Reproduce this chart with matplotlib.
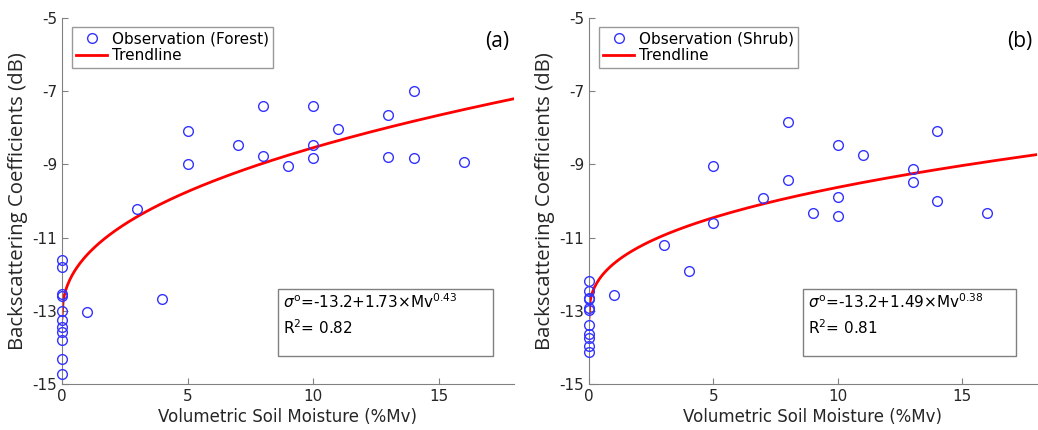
import matplotlib
matplotlib.use('Agg')
import matplotlib.pyplot as plt
import matplotlib.patches as patches
import numpy as np

plt.rcParams['axes.unicode_minus'] = False

# Forest (a)
forest_mv = [0, 0, 0, 0, 0, 0, 0, 0, 0, 0, 0,
             1, 3, 4, 5, 5, 7, 8, 8, 9, 10, 10, 10, 11, 13, 13, 14, 14, 16]
forest_db = [-11.61, -11.81, -12.54, -12.59, -13.0, -13.25, -13.44, -13.57, -13.8, -14.31, -14.72,
             -13.02, -10.22, -12.68, -8.08, -8.98, -8.48, -7.41, -8.77, -9.05, -7.39, -8.47, -8.83,
             -8.02, -7.65, -8.81, -6.98, -8.83, -8.94]

# Shrub (b)
shrub_mv = [0, 0, 0, 0, 0, 0, 0, 0, 0, 0, 0,
            1, 3, 4, 5, 5, 7, 8, 8, 9, 10, 10, 10, 11, 13, 13, 14, 14, 16]
shrub_db = [-12.18, -12.47, -12.65, -12.68, -12.91, -12.97, -13.38, -13.64, -13.73, -13.97, -14.12,
            -12.58, -11.2, -11.91, -9.05, -10.61, -9.91, -7.84, -9.42, -10.32, -8.46, -9.9, -10.41,
            -8.73, -9.12, -9.48, -8.08, -10.01, -10.32]

# trendline parameters: sigma = a + b * Mv^c, and R2
forest_fit = (-13.2, 1.73, 0.43, 0.82)
shrub_fit = (-13.2, 1.49, 0.38, 0.81)

gris = '#808080'


def panneau(ax, mv, db, fit, nom, lettre):
    a, b, c, r2 = fit
    ax.plot(mv, db, 'o', markerfacecolor='none', markeredgecolor='#3333ff',
            markersize=7, markeredgewidth=1.0, label='Observation (%s)' % nom,
            zorder=3, clip_on=False)
    xs = np.linspace(0, 18, 400)
    ax.plot(xs, a + b * xs ** c, color='red', linewidth=2.0, label='Trendline', zorder=2)

    ax.set_xlim(0, 18)
    ax.set_ylim(-15, -5)
    ax.set_xticks([0, 5, 10, 15])
    ax.set_yticks([-15, -13, -11, -9, -7, -5])
    ax.tick_params(direction='in', length=4, color=gris, labelsize=11, labelcolor='#262626')
    for s in ['top', 'right']:
        ax.spines[s].set_visible(False)
    for s in ['left', 'bottom']:
        ax.spines[s].set_color(gris)
    ax.set_xlabel('Volumetric Soil Moisture (%Mv)', fontsize=12, color='#262626', labelpad=3)
    ax.set_ylabel('Backscattering Coefficients (dB)', fontsize=14.7, color='#262626',
                  family='Open Sans', labelpad=3)

    leg = ax.legend(loc='upper left', bbox_to_anchor=(0.022, 0.975), borderaxespad=0,
                    fontsize=11, fancybox=False, frameon=True, handlelength=2.0,
                    handletextpad=0.3, borderpad=0.3, labelspacing=0.1)
    leg.get_frame().set_edgecolor(gris)
    leg.get_frame().set_linewidth(1.0)

    # equation box
    ax.add_patch(patches.Rectangle((0.478, 0.077), 0.476, 0.183, transform=ax.transAxes,
                                   facecolor='white', edgecolor=gris, linewidth=1.0, zorder=4))
    ax.text(0.49, 0.225, r'$\sigma^{\mathrm{o}}$=%.1f+%.2f$\times$Mv$^{%.2f}$' % (a, b, c),
            transform=ax.transAxes, fontsize=11, va='center', ha='left', zorder=5)
    ax.text(0.49, 0.155, r'R$^2$= %.2f' % r2, transform=ax.transAxes, fontsize=11,
            va='center', ha='left', zorder=5)

    ax.text(0.99, 0.965, lettre, transform=ax.transAxes, fontsize=15, ha='right', va='top',
            family='Open Sans')


fig = plt.figure(figsize=(10.38, 4.30), dpi=100)
ax1 = fig.add_axes([0.0597, 0.107, 0.4355, 0.851])
ax2 = fig.add_axes([0.5674, 0.107, 0.4316, 0.851])

panneau(ax1, forest_mv, forest_db, forest_fit, 'Forest', '(a)')
panneau(ax2, shrub_mv, shrub_db, shrub_fit, 'Shrub', '(b)')

fig.savefig('out.png', dpi=100)
